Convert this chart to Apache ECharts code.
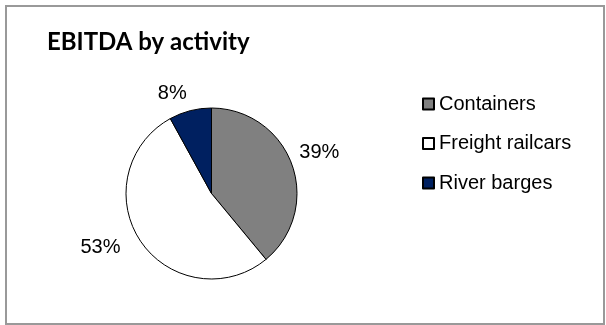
<!DOCTYPE html>
<html>
<head>
<meta charset="utf-8">
<script src="https://cdn.jsdelivr.net/npm/echarts@6/dist/echarts.min.js"></script>
<style>
  html, body { margin: 0; padding: 0; background: #fff; }
  #chart { width: 606px; height: 325px; }
</style>
</head>
<body>
<div id="chart"></div>
<script>
// data (shares in %)
const categories = ['Containers', 'Freight railcars', 'River barges']
const shares = [39, 53, 8]
const sliceColors = ['#808080', '#ffffff', '#002060']
// small nudges so the labels sit where the original put them
const labelShift = [[-7, -9], [-7, 0], [4, -8]]

const chart = echarts.init(document.getElementById('chart'))

const option = {
  animation: false,
  backgroundColor: '#fff',
  title: {
    text: 'EBITDA by activity',
    left: 47,
    top: 30,
    padding: 0,
    textStyle: {
      fontFamily: 'Lato',
      fontWeight: 'bold',
      fontSize: 24,
      lineHeight: 24,
      color: '#000'
    }
  },
  legend: {
    orient: 'vertical',
    left: 422,
    top: 94,
    padding: 0,
    itemWidth: 11,
    itemHeight: 11,
    itemGap: 19.5,
    icon: 'rect',
    selectedMode: false,
    data: categories,
    textStyle: {
      fontFamily: 'Liberation Sans',
      fontSize: 20,
      lineHeight: 20,
      color: '#000',
      padding: [0, 0, 0, 0]
    }
  },
  graphic: [{
    type: 'rect',
    silent: true,
    shape: { x: 6, y: 6, width: 598, height: 318 },
    style: { fill: 'none', stroke: '#999', lineWidth: 2 }
  }],
  series: [{
    type: 'pie',
    center: [211.5, 193.5],
    radius: 85.5,
    startAngle: 90,
    clockwise: true,
    avoidLabelOverlap: false,
    silent: true,
    itemStyle: { borderColor: '#000', borderWidth: 1 },
    label: {
      show: true,
      position: 'outside',
      distanceToLabelLine: 5,
      fontFamily: 'Liberation Sans',
      fontSize: 20,
      color: '#000',
      formatter: p => p.value + '%'
    },
    labelLine: { show: false, length: 10, length2: 0 },
    labelLayout: params => {
      const s = labelShift[params.dataIndex]
      return { dx: s[0], dy: s[1] }
    },
    emphasis: { disabled: true },
    data: categories.map((name, i) => ({
      name: name,
      value: shares[i],
      itemStyle: { color: sliceColors[i] }
    }))
  }]
}

chart.setOption(option)
</script>
</body>
</html>
